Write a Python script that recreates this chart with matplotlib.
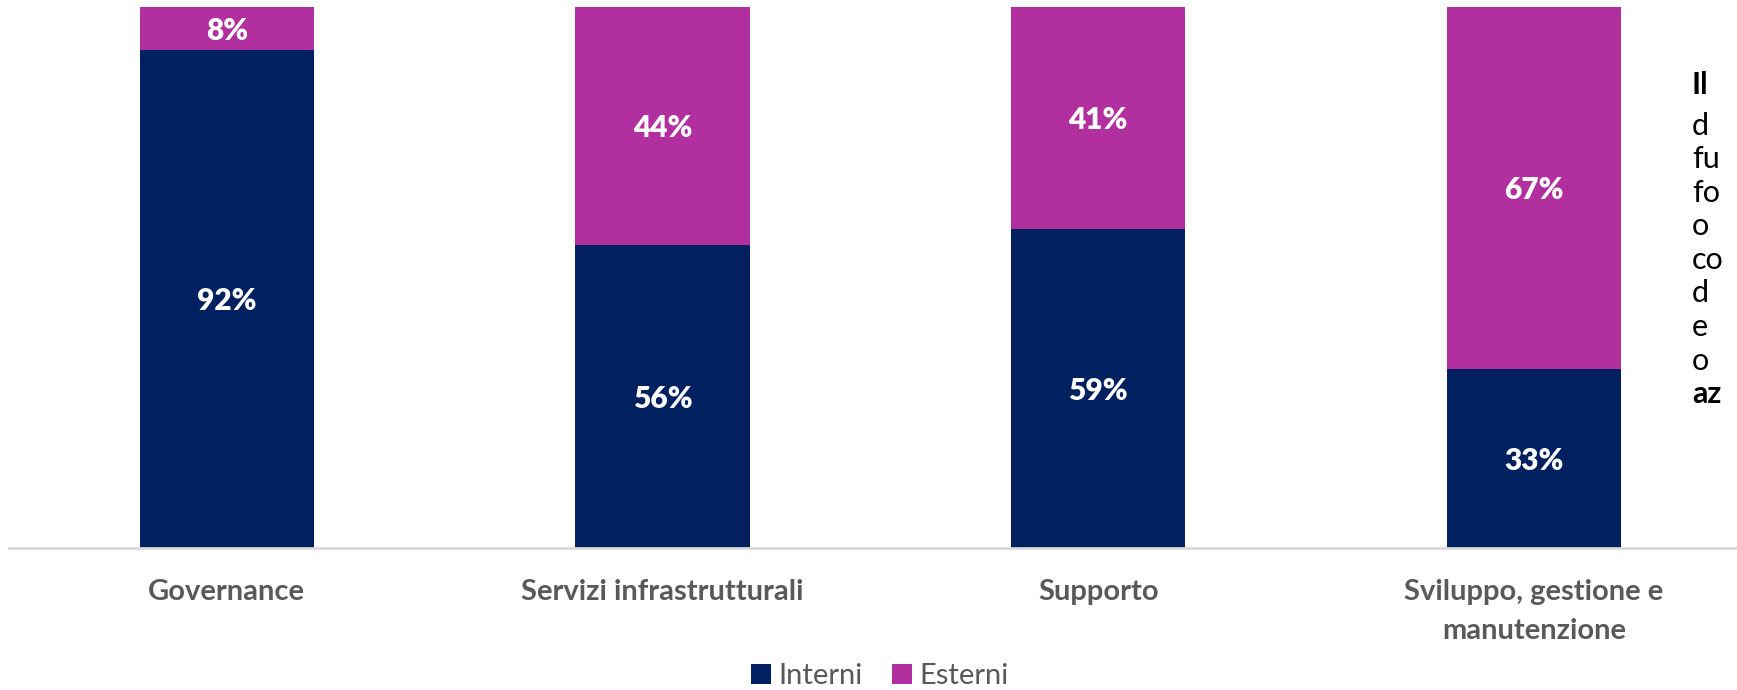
import numpy as np
import matplotlib.pyplot as plt

# ripartizione del personale per area: interni vs esterni
categorie = ["Governance", "Servizi infrastrutturali", "Supporto",
             "Sviluppo, gestione e\nmanutenzione"]
interni = [92, 56, 59, 33]
esterni = [8, 44, 41, 67]

# testo laterale (tagliato dal bordo della figura)
note_righe = ["Il", "d", "fu", "fo", "o", "co", "d", "e", "o", "az"]
note_bold = [True, False, False, False, False, False, False, False, False, True]

col_int = "#002060"
col_est = "#B12F9E"
grigio = "#595959"
font = "Lato"

W, H = 1737, 690
fig = plt.figure(figsize=(W / 100, H / 100), dpi=100)
passo = 435.7
ax = fig.add_axes([9 / W, 142 / H, 4 * passo / W, 541 / H])

x = np.arange(len(categorie))
larg = 0.40
b1 = ax.bar(x, interni, larg, color=col_int, label="Interni")
b2 = ax.bar(x, esterni, larg, bottom=interni, color=col_est, label="Esterni")

for i in range(len(x)):
    ax.text(x[i], interni[i] / 2 - 0.4, f"{interni[i]}%", ha="center", va="center",
            color="white", fontsize=21.5, fontweight="heavy", family=font)
    ax.text(x[i], interni[i] + esterni[i] / 2 - 0.4, f"{esterni[i]}%", ha="center",
            va="center", color="white", fontsize=21.5, fontweight="heavy", family=font)

ax.set_xlim(-0.5, 3.5)
ax.set_ylim(0, 100)
ax.set_yticks([])
ax.set_xticks(x)
ax.set_xticklabels(categorie, fontsize=21, fontweight="bold", color=grigio,
                   family=font, linespacing=1.65)
ax.tick_params(axis="x", length=0, pad=22)
for s in ["top", "right", "left"]:
    ax.spines[s].set_visible(False)
ax.spines["bottom"].set_color("#D9D9D9")
ax.spines["bottom"].set_linewidth(2)

leg = fig.legend(handles=[b1, b2], loc="center", bbox_to_anchor=(880 / W, 14 / H),
                 ncol=2, frameon=False, handlelength=0.7, handleheight=0.7,
                 handletextpad=0.25, columnspacing=1.0,
                 prop={"family": font, "size": 21})
for t in leg.get_texts():
    t.set_color(grigio)

# prima riga in grassetto staccata, poi interlinea regolare
for k, riga in enumerate(note_righe):
    y_base = 94 if k == 0 else 135 + (k - 1) * 33.5
    fig.text(1692 / W, 1 - y_base / H, riga, ha="left", va="baseline",
             fontsize=22, family=font, color="black",
             fontweight="bold" if note_bold[k] else "normal")

fig.savefig("out.png", dpi=100)
